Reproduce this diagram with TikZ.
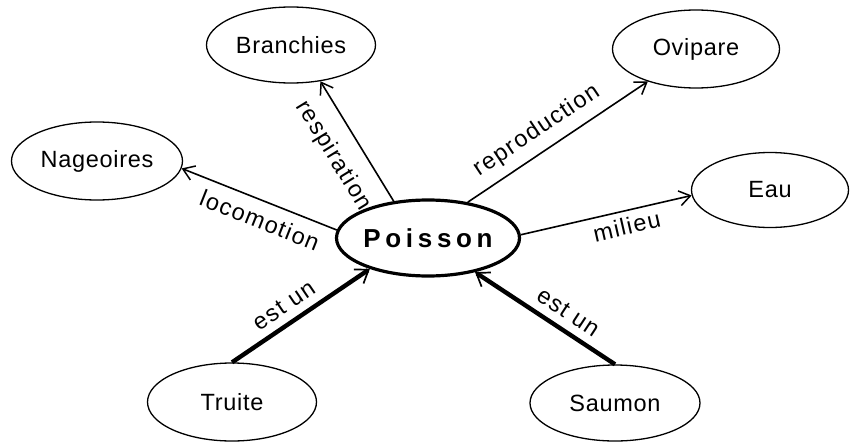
\documentclass[tikz,border=0pt]{standalone}
\usepackage{fontspec}
\setmainfont{Liberation Sans}
\newfontfamily\conceptfont[LetterSpace=3]{Liberation Sans}
\newfontfamily\linkfont[LetterSpace=6]{Liberation Sans}
\newfontfamily\centralfont[LetterSpace=18]{Liberation Sans}
\usetikzlibrary{shapes.geometric,arrows.meta}
\begin{document}
\begin{tikzpicture}[x=1pt,y=-1pt,
  concept/.style={ellipse, draw, line width=1.3pt, inner sep=0pt,
    minimum width=169pt, minimum height=76pt,
    font=\conceptfont\fontsize{23.5}{28}\selectfont},
  central/.style={ellipse, draw, line width=3.2pt, inner sep=0pt,
    minimum width=183pt, minimum height=76pt,
    font=\centralfont\bfseries\fontsize{26}{31}\selectfont},
  relation/.style={line width=1.6pt,
    -{Straight Barb[length=11pt,width=15pt,line width=1.5pt]}},
  isa/.style={line width=4.4pt,
    -{Straight Barb[length=12pt,width=17pt,line width=1.7pt]}},
  lbl/.style={sloped, inner sep=2pt, font=\linkfont\fontsize{23.5}{28}\selectfont}]
\useasboundingbox (0,0) rectangle (850,444);

% concepts
\node[central] (P) at (428,238) {Poisson};
\node[concept] (B) at (291,45) {Branchies};
\node[concept, minimum width=167pt, minimum height=78pt] (O) at (696,49) {Ovipare};
\node[concept, minimum width=171pt, minimum height=78pt] (N) at (97,161) {Nageoires};
\node[concept, minimum width=157pt, minimum height=75pt] (E) at (770,190) {Eau};
\node[concept, minimum height=78pt] (T) at (232,402) {Truite};
\node[concept, minimum width=170pt] (S) at (615,403) {Saumon};

% attribute relations
\draw[relation] (P.133) -- node[lbl, pos=.5, below=14pt] {respiration} (B.-51);
\draw[relation] (P.175) -- node[lbl, pos=.45, below=8pt] {locomotion} (N.-5);
\draw[relation] (P.42) -- node[lbl, pos=.45, above=7pt] {reproduction} (O.214);
\draw[relation] (P.2) -- node[lbl, pos=.6, below=4pt] {milieu} (E.184);

% kind-of relations
\draw[isa] (T.north) -- node[lbl, pos=.45, above=6pt] {est un} (P.208);
\draw[isa] (S.north) -- node[lbl, pos=.4, above=6pt] {est un} (P.-36);
\end{tikzpicture}
\end{document}
